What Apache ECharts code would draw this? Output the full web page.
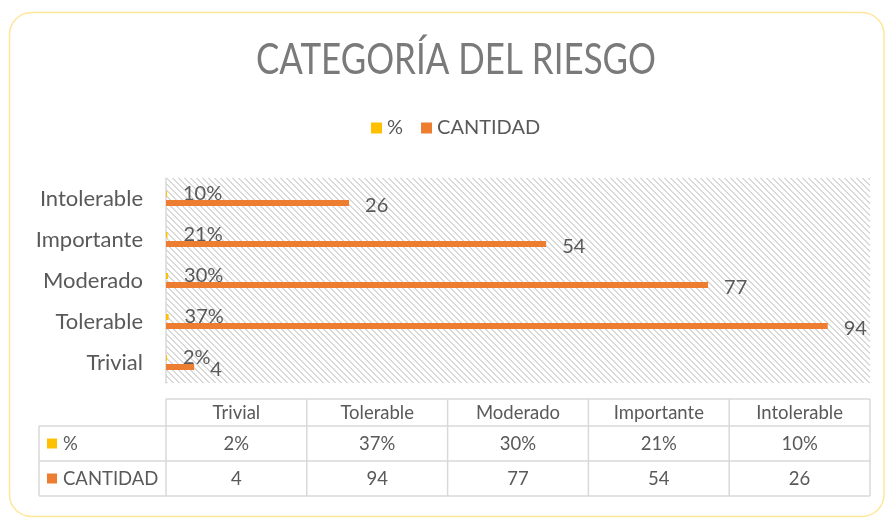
<!DOCTYPE html>
<html>
<head>
<meta charset="utf-8">
<script src="https://cdn.jsdelivr.net/npm/echarts@6/dist/echarts.min.js"></script>
<style>
  html, body { margin: 0; padding: 0; background: #fff; }
  #box { width: 885px; height: 519px; }
</style>
</head>
<body>
<div id="box"></div>
<script>
// datos
var categorias = ["Trivial", "Tolerable", "Moderado", "Importante", "Intolerable"];
var porcentaje = [0.02, 0.37, 0.30, 0.21, 0.10];
var cantidad = [4, 94, 77, 54, 26];
var nombres = ["%", "CANTIDAD"];
var colores = ["#ffc000", "#ed7d31"];
var titulo = "CATEGORÍA DEL RIESGO";

var myChart = echarts.init(document.getElementById("box"));

// trama diagonal del fondo
var tile = document.createElement("canvas");
tile.width = 6;
tile.height = 6;
var ctx = tile.getContext("2d");
ctx.fillStyle = "#ffffff";
ctx.fillRect(0, 0, 6, 6);
ctx.fillStyle = "#d9d9d9";
for (var i = 0; i < 6; i++) {
  ctx.fillRect(i, i, 1, 1);
  ctx.fillRect((i + 1) % 6, i, 1, 1);
}

// ancho del título (fuente estrecha simulada)
var fTitulo = "43px Lato";
ctx.font = fTitulo;
var escalaTitulo = 400 / ctx.measureText(titulo).width;

var gridLeft = 166, gridTop = 178, gridRight = 870, gridBottom = 383;
var colW = (gridRight - gridLeft) / categorias.length;
var tabla = { top: 399, rows: [426, 461, 496], labelLeft: 39 };
var txt = "#595959";
var linea = "#d9d9d9";
var fTabla = "18.5px Lato";

function fmtPct(v) {
  return Math.round(v * 100) + "%";
}

var graficos = [];
// marco
graficos.push({
  type: "rect",
  shape: { x: 9.5, y: 12.5, width: 874.5, height: 504, r: 22 },
  style: { fill: null, stroke: "#ffe699", lineWidth: 1.5 },
  silent: true
});
// título
graficos.push({
  type: "text",
  x: 456,
  y: 60,
  scaleX: escalaTitulo,
  style: { text: titulo, fill: "#7a7a7a", font: fTitulo, align: "center", verticalAlign: "middle" }
});
// tabla de datos
graficos.push({ type: "line", shape: { x1: gridLeft, y1: tabla.top, x2: gridRight, y2: tabla.top }, style: { stroke: linea, lineWidth: 1.5 } });
tabla.rows.forEach(function (y) {
  graficos.push({ type: "line", shape: { x1: tabla.labelLeft, y1: y, x2: gridRight, y2: y }, style: { stroke: linea, lineWidth: 1.5 } });
});
graficos.push({ type: "line", shape: { x1: tabla.labelLeft, y1: tabla.rows[0], x2: tabla.labelLeft, y2: tabla.rows[2] }, style: { stroke: linea, lineWidth: 1.5 } });
for (var c = 0; c <= categorias.length; c++) {
  var x = gridLeft + c * colW;
  graficos.push({ type: "line", shape: { x1: x, y1: tabla.top, x2: x, y2: tabla.rows[2] }, style: { stroke: linea, lineWidth: 1.5 } });
}
var filas = [porcentaje.map(fmtPct), cantidad.map(String)];
categorias.forEach(function (cat, k) {
  var cx = gridLeft + (k + 0.5) * colW;
  graficos.push({ type: "text", x: cx, y: (tabla.top + tabla.rows[0]) / 2 + 1, style: { text: cat, fill: txt, font: fTabla, align: "center", verticalAlign: "middle" } });
  filas.forEach(function (fila, r) {
    graficos.push({ type: "text", x: cx, y: (tabla.rows[r] + tabla.rows[r + 1]) / 2 + 1, style: { text: fila[k], fill: txt, font: fTabla, align: "center", verticalAlign: "middle" } });
  });
});
nombres.forEach(function (n, r) {
  var cy = (tabla.rows[r] + tabla.rows[r + 1]) / 2;
  graficos.push({ type: "rect", shape: { x: 47, y: cy - 5, width: 10, height: 10 }, style: { fill: colores[r] } });
  graficos.push({ type: "text", x: 63, y: cy + 1, style: { text: n, fill: txt, font: fTabla, align: "left", verticalAlign: "middle" } });
});

myChart.setOption({
  animation: false,
  color: colores,
  legend: {
    data: nombres,
    top: 113,
    left: 366,
    itemWidth: 11,
    itemHeight: 11,
    itemGap: 18,
    icon: "rect",
    textStyle: { fontFamily: "Lato", fontSize: 20, color: txt }
  },
  grid: {
    left: gridLeft,
    top: gridTop,
    right: 885 - gridRight,
    bottom: 519 - gridBottom,
    show: true,
    borderWidth: 0,
    backgroundColor: { image: tile, repeat: "repeat" }
  },
  xAxis: {
    type: "value",
    min: 0,
    max: 100,
    show: false
  },
  yAxis: {
    type: "category",
    data: categorias,
    axisTick: { show: false },
    axisLine: { show: true, lineStyle: { color: linea, width: 1.5 } },
    axisLabel: { color: txt, fontFamily: "Lato", fontSize: 22, margin: 23 }
  },
  series: [
    {
      name: nombres[0],
      type: "bar",
      data: porcentaje,
      barWidth: 6,
      barGap: "50%",
      barMinHeight: 1,
      label: {
        show: true,
        position: "right",
        distance: 16,
        formatter: function (p) { return fmtPct(p.value); },
        color: txt,
        fontFamily: "Lato",
        fontSize: 20
      }
    },
    {
      name: nombres[1],
      type: "bar",
      data: cantidad,
      barWidth: 6,
      label: {
        show: true,
        position: "right",
        distance: 16,
        offset: [0, 3],
        color: txt,
        fontFamily: "Lato",
        fontSize: 20
      }
    }
  ],
  graphic: graficos
});
</script>
</body>
</html>
